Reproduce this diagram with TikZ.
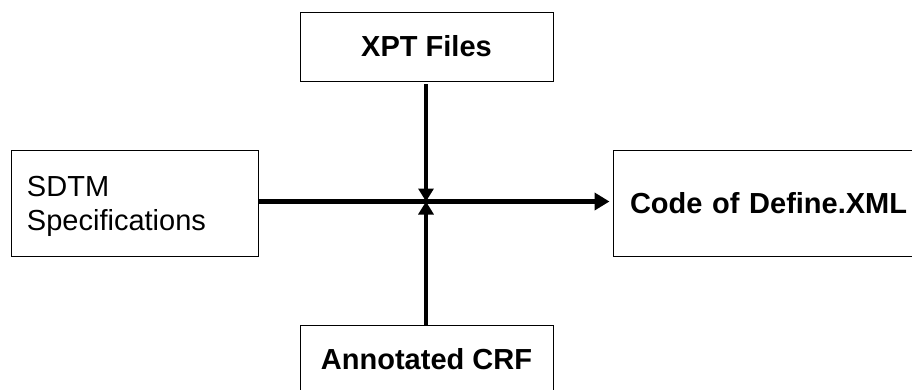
\documentclass[tikz,border=0pt]{standalone}
\usepackage{fontspec}
\setmainfont{Liberation Sans}
\usetikzlibrary{arrows.meta}
\tikzset{
  box/.style={draw, line width=1pt, inner xsep=0pt, inner ysep=0pt, font=\fontsize{29}{34}\selectfont},
  flow/.style={line width=3.8pt, -{Triangle[length=13pt,width=15pt]}},
  mainflow/.style={line width=4.5pt, -{Triangle[length=15pt,width=17pt]}, shorten >=3pt},
}

\begin{document}
\begin{tikzpicture}[x=1pt,y=-1pt]
    \clip (0,0) rectangle (912,389);
    \node[box, minimum width=253pt, text height=44pt, text depth=24.8pt] (xpt) at (426.5,47.1) {\bfseries XPT Files};
    \node[box, text width=215pt, align=left, inner xsep=16pt, text height=45.5pt, text depth=60pt] (sdtm) at (134.5,203.25) {SDTM\\Specifications};
    \node[box, text width=300pt, align=left, inner xsep=17pt, text height=62.5pt, text depth=43pt] (define) at (780,203.25) {\bfseries Code of Define.XML};
    \node[box, minimum width=253pt, text height=44pt, text depth=51pt] (crf) at (426.5,372.5) {\bfseries Annotated CRF};
    \coordinate (hub) at (426,201.5);
    \draw[mainflow] (sdtm.east |- hub) -- (define.west |- hub);
    \draw[flow, shorten <=2pt] (xpt.south -| hub) -- (hub);
    \draw[flow] (crf.north -| hub) -- (hub);
\end{tikzpicture}
\end{document}
